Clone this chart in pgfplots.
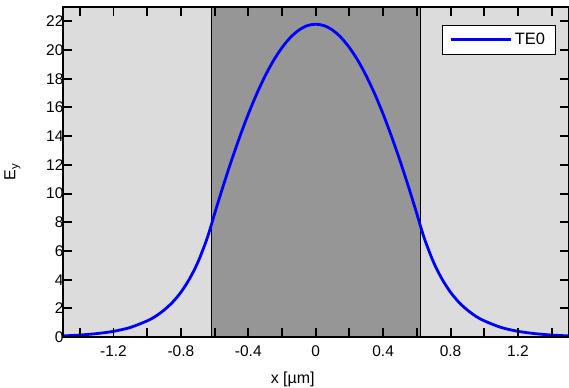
\documentclass[border=0pt]{standalone}
\usepackage{fontspec}
\setmainfont{Liberation Sans}
\usepackage{pgfplots}
\pgfplotsset{compat=1.18}
\definecolor{cladgray}{HTML}{DCDCDC}
\definecolor{coregray}{HTML}{969696}
\begin{document}
\begin{tikzpicture}
\begin{axis}[
  name=ax,
  scale only axis,
  width=506bp, height=330.5bp,
  xmin=-1.5, xmax=1.5, ymin=0, ymax=23,
  axis on top=true,
  axis background/.style={fill=cladgray},
  tick align=inside,
  xtick={-1.4,-1.2,-1.0,-0.8,-0.6,-0.4,-0.2,0,0.2,0.4,0.6,0.8,1.0,1.2,1.4},
  xticklabels={,-1.2,,-0.8,,-0.4,,0,,0.4,,0.8,,1.2,},
  ytick={0,2,4,6,8,10,12,14,16,18,20,22},
  major tick length=9bp,
  tick style={black, line width=2bp},
  axis line style={line width=1.8bp},
  /pgf/number format/assume math mode=true,
  tick label style={font=\fontsize{15.5bp}{18bp}\selectfont},
  xticklabel style={yshift=-5bp},
  yticklabel style={xshift=4bp},
  xlabel={x [µm]},
  ylabel={E\textsubscript{y}},
  every axis x label/.style={at={(axis description cs:0.4545,0)}, yshift=-46.5bp, anchor=base, font=\fontsize{16bp}{19bp}\selectfont},
  every axis y label/.style={at={(axis description cs:-0.1,0.5)}, rotate=90, anchor=center, font=\fontsize{16bp}{19bp}\selectfont},
  legend style={at={(axis description cs:0.974,0.9455)}, anchor=north east, draw=black, line width=0.7bp, fill=white, font=\fontsize{16.5bp}{19bp}\selectfont, inner xsep=8bp, inner ysep=6bp},
  legend cell align=left,
  legend image code/.code={\draw[#1] (0bp,0bp) -- (60bp,0bp);},
]
\addplot[fill=coregray, draw=black, line width=0.8bp, forget plot] coordinates {(-0.62,0) (-0.62,23) (0.62,23) (0.62,0)};
\addplot[blue, line width=2.8bp, smooth] coordinates {
(-1.50,0.09) (-1.40,0.15) (-1.30,0.25) (-1.20,0.41) (-1.10,0.68) (-1.00,1.14)
(-0.95,1.46) (-0.90,1.89) (-0.85,2.43) (-0.80,3.13) (-0.75,4.04) (-0.70,5.20)
(-0.65,6.70) (-0.62,7.80) (-0.60,8.60) (-0.55,10.50) (-0.50,12.30) (-0.45,13.98)
(-0.40,15.54) (-0.35,16.95) (-0.30,18.20) (-0.25,19.28) (-0.20,20.17) (-0.15,20.88)
(-0.10,21.39) (-0.05,21.70) (0.00,21.80) (0.05,21.70) (0.10,21.39) (0.15,20.88)
(0.20,20.17) (0.25,19.28) (0.30,18.20) (0.35,16.95) (0.40,15.54) (0.45,13.98)
(0.50,12.30) (0.55,10.50) (0.60,8.60) (0.62,7.80) (0.65,6.70) (0.70,5.20)
(0.75,4.04) (0.80,3.13) (0.85,2.43) (0.90,1.89) (0.95,1.46) (1.00,1.14)
(1.10,0.68) (1.20,0.41) (1.30,0.25) (1.40,0.15) (1.50,0.09)
};
\addlegendentry{TE0}
\end{axis}
\pgfresetboundingbox
\path ([xshift=-63bp,yshift=-50.5bp]ax.south west) rectangle ([yshift=7bp,xshift=0.5bp]ax.north east);
\end{tikzpicture}
\end{document}
